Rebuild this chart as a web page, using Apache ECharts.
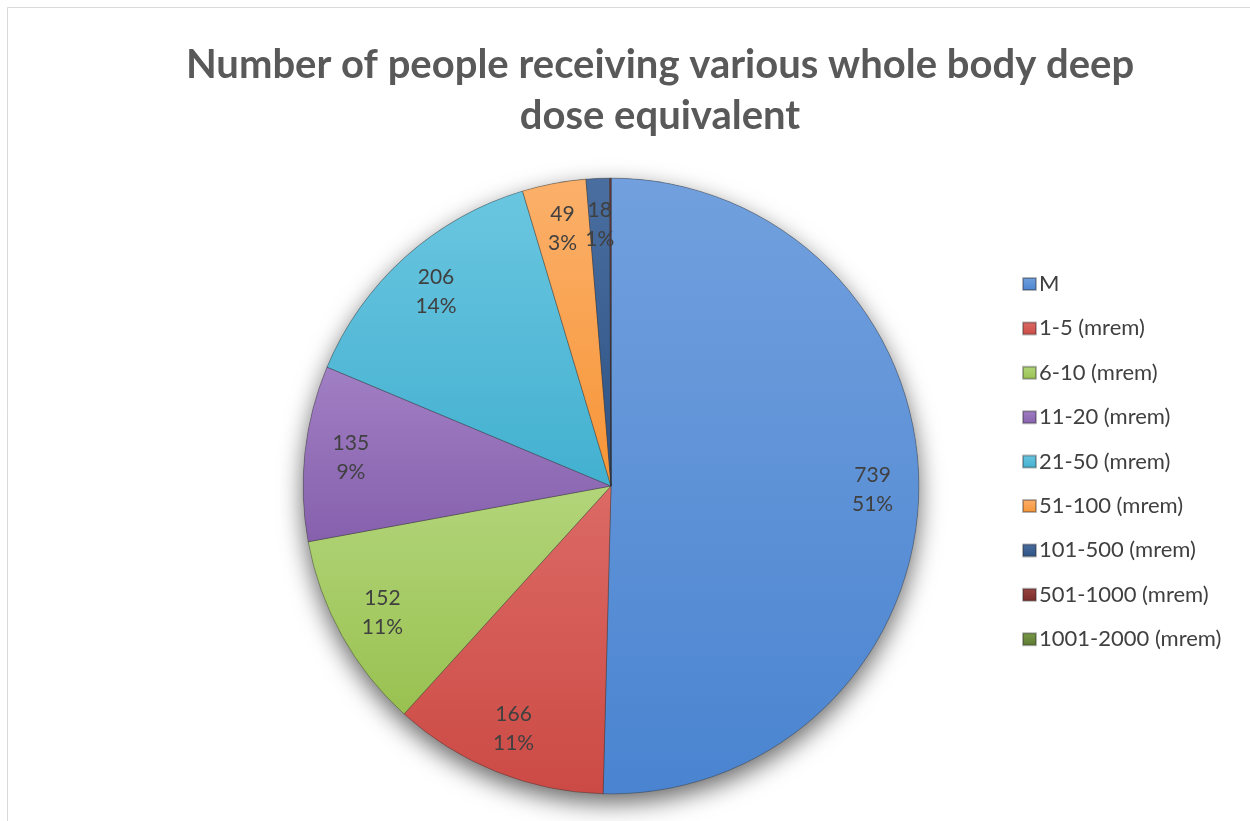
<!DOCTYPE html>
<html>
<head>
<meta charset="utf-8">
<script src="https://cdn.jsdelivr.net/npm/echarts@6/dist/echarts.min.js"></script>
<style>html,body{margin:0;padding:0;background:#fff;}#c{width:1250px;height:821px;}</style>
</head>
<body>
<div id="c"></div>
<script>
const categories = ['M', '1-5 (mrem)', '6-10 (mrem)', '11-20 (mrem)', '21-50 (mrem)', '51-100 (mrem)', '101-500 (mrem)', '501-1000 (mrem)', '1001-2000 (mrem)'];
const values = [739, 166, 152, 135, 206, 49, 18, 1, 0];
const percentLabels = ['51%', '11%', '11%', '9%', '14%', '3%', '1%', '0%', '0%'];
const baseColors = ['#4a84d0', '#cc4a45', '#99c150', '#8660ad', '#43b0d0', '#f79537', '#2c5283', '#7a2a28', '#5d7a30'];
const lightColors = ['#72a0de', '#dc6a65', '#b2d57a', '#a17fc4', '#6ac6e0', '#fbb06a', '#4a6ea0', '#9a4542', '#7a9a4a'];

const chart = echarts.init(document.getElementById('c'));
const FONT = 'Lato';
const center = [611, 486];

function grad(i) {
  return new echarts.graphic.LinearGradient(0, 0, 0, 1, [
    { offset: 0, color: lightColors[i] },
    { offset: 1, color: baseColors[i] }
  ]);
}

const pieData = categories.map((n, i) => ({
  name: n, value: values[i],
  itemStyle: { color: grad(i) }
}));
const labelData = categories.map((n, i) => ({ name: n, value: values[i] }));
const total = values.reduce((a, b) => a + b, 0);

chart.setOption({
  animation: false,
  backgroundColor: '#fff',
  title: {
    text: 'Number of people receiving various whole body deep\ndose equivalent',
    left: 655,
    top: 35,
    textAlign: 'center',
    textStyle: {
      fontFamily: FONT, fontWeight: 'bold', fontSize: 40, color: '#595959',
      lineHeight: 51, align: 'center'
    }
  },
  graphic: [{
    type: 'rect', z: -10, silent: true,
    shape: { x: 7.5, y: 7.5, width: 1400, height: 1000 },
    style: { fill: 'none', stroke: '#d9d9d9', lineWidth: 1 }
  }],
  legend: {
    orient: 'vertical',
    left: 1017, top: 268,
    itemWidth: 13, itemHeight: 12, itemGap: 22.4,
    icon: 'rect',
    data: categories,
    textStyle: { fontFamily: FONT, fontSize: 22, color: '#404040', padding: [0, 0, 0, -2] }
  },
  series: [
    {
      type: 'pie', name: 'shadow', silent: true, z: 1,
      center: center, radius: '75%',
      label: { show: false }, labelLine: { show: false },
      itemStyle: { color: '#777', shadowBlur: 24, shadowOffsetY: 9, shadowColor: 'rgba(0,0,0,0.6)' },
      emphasis: { disabled: true },
      tooltip: { show: false },
      data: [{ name: '', value: total }]
    },
    {
      type: 'pie', name: 'dose', z: 2,
      center: center, radius: '75%',
      startAngle: 90, clockwise: true,
      avoidLabelOverlap: false,
      label: { show: false }, labelLine: { show: false },
      itemStyle: { borderColor: 'rgba(40,40,40,0.35)', borderWidth: 1 },
      emphasis: { disabled: true },
      data: pieData
    },
    {
      type: 'pie', name: 'labels', z: 3, silent: true,
      center: center, radius: ['51%', '75%'],
      startAngle: 90, clockwise: true,
      avoidLabelOverlap: false,
      itemStyle: { color: 'rgba(0,0,0,0)', borderWidth: 0 },
      emphasis: { disabled: true },
      label: {
        show: true, position: 'inside',
        fontFamily: FONT, fontSize: 21, color: '#404040', lineHeight: 29,
        formatter: p => values[p.dataIndex] + '\n' + percentLabels[p.dataIndex]
      },
      labelLine: { show: false },
      data: labelData
    }
  ]
});
</script>
</body>
</html>
